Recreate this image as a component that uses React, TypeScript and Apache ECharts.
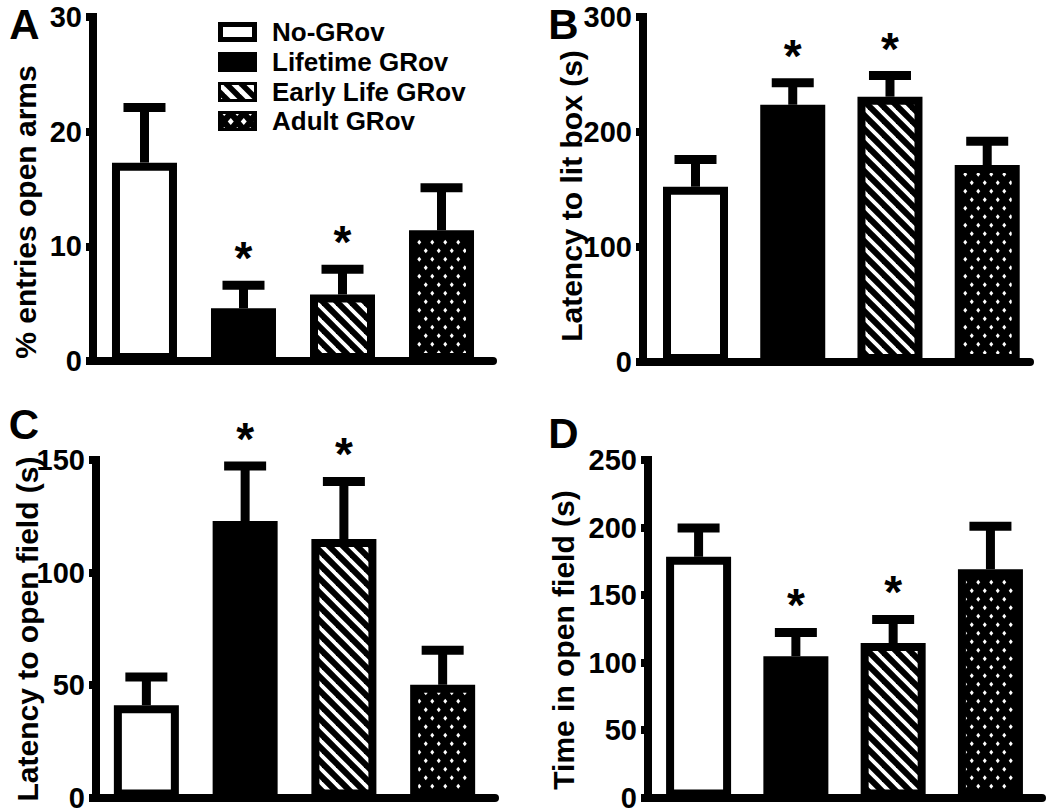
import React, { useEffect, useRef } from "react";
import * as echarts from "echarts";

const groups = ["No-GRov", "Lifetime GRov", "Early Life GRov", "Adult GRov"];
const panelLetters = ["A", "B", "C", "D"];
const yTitles = [
  "% entries open arms",
  "Latency to lit box (s)",
  "Latency to open field (s)",
  "Time in open field (s)",
];
const yMaxes = [30, 300, 150, 250];
const yIntervals = [10, 100, 50, 50];

const meansA = [17.3, 4.6, 5.8, 11.4];
const semA = [4.8, 2.0, 2.2, 3.7];
const meansB = [152.4, 223.7, 230.7, 171.3];
const semB = [23.7, 19.1, 18.4, 20.7];
const meansC = [41.0, 122.9, 114.9, 50.1];
const semC = [12.6, 24.4, 25.6, 15.3];
const meansD = [178.3, 104.6, 114.4, 169.1];
const semD = [21.3, 17.7, 17.5, 31.9];
const significant = [false, true, true, false];

const allMeans = [meansA, meansB, meansC, meansD];
const allSem = [semA, semB, semC, semD];

const FONT = "'Liberation Sans', Arial, Helvetica, sans-serif";

function makeStripe(size: number, lw: number) {
  const c = document.createElement("canvas");
  c.width = size;
  c.height = size;
  const g = c.getContext("2d")!;
  g.fillStyle = "#000";
  g.fillRect(0, 0, size, size);
  g.strokeStyle = "#fff";
  g.lineWidth = lw;
  for (let k = -1; k <= 1; k++) {
    g.beginPath();
    g.moveTo(-size, -size + k * size);
    g.lineTo(2 * size, 2 * size + k * size);
    g.stroke();
  }
  return c;
}

function makeDots(w: number, h: number, rx: number, ry: number) {
  const c = document.createElement("canvas");
  c.width = w;
  c.height = h;
  const g = c.getContext("2d")!;
  g.fillStyle = "#000";
  g.fillRect(0, 0, w, h);
  g.fillStyle = "#fff";
  const pts = [
    [w / 4, h / 4],
    [(3 * w) / 4, (3 * h) / 4],
  ];
  for (const [cx, cy] of pts) {
    g.beginPath();
    g.moveTo(cx, cy - ry);
    g.lineTo(cx + rx, cy);
    g.lineTo(cx, cy + ry);
    g.lineTo(cx - rx, cy);
    g.closePath();
    g.fill();
  }
  return c;
}

export default function App() {
  const ref = useRef<HTMLDivElement>(null);

  useEffect(() => {
    if (!ref.current) return;
    const chart = echarts.init(ref.current, undefined, { renderer: "svg" });

    const stripe = { image: makeStripe(14, 3.8), repeat: "repeat" };
    const dots = { image: makeDots(13, 17, 2, 2.4), repeat: "repeat" };
    const legendStripe = { image: makeStripe(15, 5), repeat: "repeat" };
    const legendDots = { image: makeDots(13, 18, 3, 3.6), repeat: "repeat" };
    const fills: any[] = ["#fff", "#000", stripe, dots];

    const grids = [
      { left: 93, top: 17, width: 400, height: 344 },
      { left: 643, top: 17, width: 387, height: 345 },
      { left: 96, top: 460, width: 399, height: 345 },
      { left: 648, top: 460, width: 394, height: 346 },
    ];
    const xMin = [-0.52, -0.54, -0.51, -0.52];
    const xMax = [3.52, 3.44, 3.53, 3.53];

    const renderItem = (params: any, api: any) => {
      const x = api.value(0);
      const m = api.value(1);
      const t = api.value(2);
      const s = api.value(3);
      const pm = api.coord([x, m]);
      const pt = api.coord([x, t]);
      const children: any[] = [
        {
          type: "line",
          shape: { x1: pm[0], y1: pm[1], x2: pm[0], y2: pt[1] },
          style: { stroke: "#000", lineWidth: 9 },
        },
        {
          type: "line",
          shape: { x1: pm[0] - 21, y1: pt[1], x2: pm[0] + 21, y2: pt[1] },
          style: { stroke: "#000", lineWidth: 9 },
        },
      ];
      if (s) {
        children.push({
          type: "text",
          x: pm[0],
          y: pt[1] - 27,
          style: {
            text: "*",
            fill: "#000",
            font: `bold 46px ${FONT}`,
            align: "center",
            textAlign: "center",
            verticalAlign: "middle",
            textVerticalAlign: "middle",
          },
        });
      }
      return { type: "group", children };
    };

    const series: any[] = [];
    for (let k = 0; k < 4; k++) {
      const means = allMeans[k];
      const sem = allSem[k];
      series.push({
        type: "bar",
        name: panelLetters[k],
        xAxisIndex: k,
        yAxisIndex: k,
        barWidth: 65,
        silent: true,
        itemStyle: { borderColor: "#000", borderWidth: 8 },
        data: means.map((m, i) => ({
          value: [i, m],
          name: groups[i],
          itemStyle: { color: fills[i], borderColor: "#000", borderWidth: 8 },
        })),
      });
      series.push({
        type: "custom",
        xAxisIndex: k,
        yAxisIndex: k,
        silent: true,
        z: 5,
        encode: { x: 0, y: [1, 2] },
        renderItem,
        data: means.map((m, i) => [i, m, m + sem[i], significant[i] ? 1 : 0]),
      });
    }

    const letterPos = [
      [24.5, 24],
      [563.5, 24],
      [24, 424],
      [563.5, 433],
    ];
    const titlePos = [
      [25, 212],
      [571, 196],
      [27, 629],
      [563, 640],
    ];

    const graphic: any[] = [];
    for (let k = 0; k < 4; k++) {
      graphic.push({
        type: "text",
        x: letterPos[k][0],
        y: letterPos[k][1],
        style: {
          text: panelLetters[k],
          fill: "#000",
          font: `bold 42px ${FONT}`,
          align: "center",
          textAlign: "center",
          verticalAlign: "middle",
          textVerticalAlign: "middle",
        },
      });
      graphic.push({
        type: "text",
        x: titlePos[k][0],
        y: titlePos[k][1],
        rotation: Math.PI / 2,
        style: {
          text: yTitles[k],
          fill: "#000",
          font: `bold 30px ${FONT}`,
          align: "center",
          textAlign: "center",
          verticalAlign: "middle",
          textVerticalAlign: "middle",
        },
      });
    }

    // legend
    const legTops = [22, 52, 82, 111];
    const legFills: any[] = ["#fff", "#000", legendStripe, legendDots];
    for (let i = 0; i < 4; i++) {
      const top = legTops[i];
      if (i === 0) {
        graphic.push({
          type: "rect",
          shape: { x: 220.5, y: top + 2.5, width: 34, height: 15 },
          style: { fill: "#fff", stroke: "#000", lineWidth: 5 },
        });
      } else if (i === 1) {
        graphic.push({
          type: "rect",
          shape: { x: 218, y: top, width: 39, height: 20 },
          style: { fill: "#000" },
        });
      } else {
        graphic.push({
          type: "rect",
          shape: { x: 219.5, y: top + 1.5, width: 36, height: 17 },
          style: { fill: legFills[i], stroke: "#000", lineWidth: 3 },
        });
      }
      graphic.push({
        type: "text",
        x: 272,
        y: top + 10,
        style: {
          text: groups[i],
          fill: "#000",
          font: `bold 26px ${FONT}`,
          align: "left",
          textAlign: "left",
          verticalAlign: "middle",
          textVerticalAlign: "middle",
        },
      });
    }

    chart.setOption({
      animation: false,
      backgroundColor: "#fff",
      textStyle: { fontFamily: FONT, fontWeight: "bold" },
      grid: grids,
      xAxis: grids.map((_, k) => ({
        type: "value",
        gridIndex: k,
        min: xMin[k],
        max: xMax[k],
        axisLine: { show: true, onZero: false, lineStyle: { color: "#000", width: 8 } },
        axisTick: { show: false },
        axisLabel: { show: false },
        splitLine: { show: false },
      })),
      yAxis: grids.map((_, k) => ({
        type: "value",
        gridIndex: k,
        min: 0,
        max: yMaxes[k],
        interval: yIntervals[k],
        axisLine: { show: true, onZero: false, lineStyle: { color: "#000", width: 8, cap: "square" } },
        axisTick: { show: true, length: 7, lineStyle: { color: "#000", width: 8 } },
        axisLabel: {
          color: "#000",
          fontSize: 29,
          fontWeight: 700,
          fontFamily: FONT,
          margin: 11,
        },
        splitLine: { show: false },
      })),
      series,
      graphic,
    });

    return () => chart.dispose();
  }, []);

  return (
    <div
      ref={ref}
      style={{ position: "absolute", left: 0, top: 0, width: 1050, height: 812, background: "#fff" }}
    />
  );
}
